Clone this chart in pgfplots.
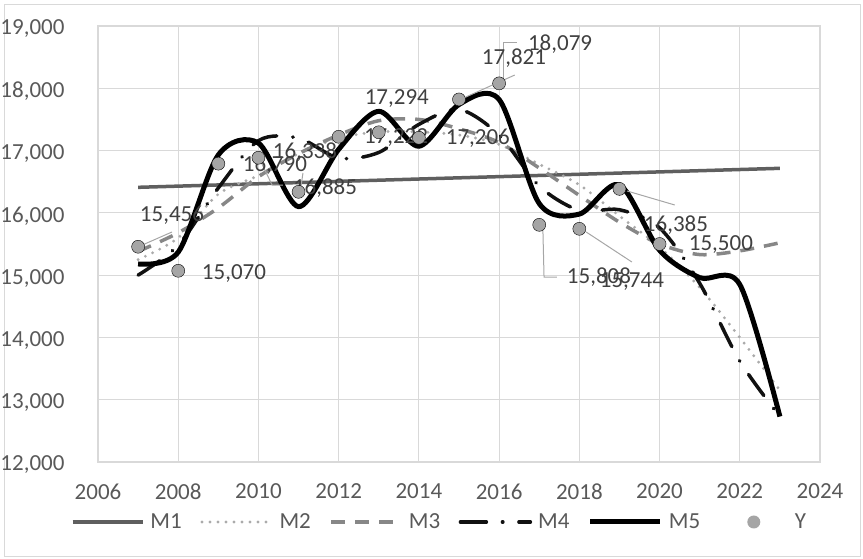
\documentclass[border=0pt]{standalone}
\usepackage{fontspec}
\setmainfont{Carlito}
\usepackage{pgfplots}
\pgfplotsset{compat=1.18}
\definecolor{gridc}{HTML}{D9D9D9}
\definecolor{mone}{HTML}{5F5F5F}
\definecolor{mtwo}{HTML}{ABABAB}
\definecolor{mthree}{HTML}{878787}
\definecolor{mfour}{HTML}{111111}
\definecolor{yc}{HTML}{A5A5A5}
\definecolor{lab}{HTML}{404040}
\definecolor{tickc}{HTML}{595959}
\definecolor{lead}{HTML}{A6A6A6}
\tikzset{lbl/.style={font=\fontsize{23}{27}\selectfont, text=lab, inner sep=0pt, anchor=center}}
\begin{document}
\begin{tikzpicture}
\useasboundingbox (-98pt,-96pt) rectangle (765pt,462pt);
\draw[gridc, line width=1pt] (-93pt,-94pt) rectangle (762pt,457pt);
\begin{axis}[
  at={(0pt,0pt)}, anchor=south west,
  scale only axis, width=722pt, height=436pt,
  xmin=2006, xmax=2024, ymin=12000, ymax=19000,
  xtick={2006,2008,...,2024}, ytick={12000,13000,...,19000},
  scaled ticks=false,
  grid=major, major grid style={gridc, line width=1.2pt},
  axis line style={gridc, line width=1.2pt},
  major tick length=0pt,
  /pgf/number format/assume math mode=true,
  ticklabel style={font=\fontsize{23}{27}\selectfont, text=tickc},
  yticklabel style={/pgf/number format/1000 sep={,}, xshift=-30pt, yshift=-3pt},
  xticklabel style={/pgf/number format/1000 sep={}, yshift=-18pt},
  legend columns=6,
  legend style={at={(axis description cs:-0.0374,-0.1376)}, anchor=west,
    draw=none, fill=none, inner sep=0pt, outer sep=0pt,
    font=\fontsize{23}{27}\selectfont, text=tickc,
    nodes={inner sep=0pt},
    /tikz/every odd column/.style={column sep=6pt},
    /tikz/every even column/.style={column sep=18.5pt}},
  legend image code/.code={\draw[#1] (0pt,0pt) -- (70pt,0pt);},
]
\addplot[mone, line width=3.5pt] coordinates {(2007,16410) (2023,16715)};
\addlegendentry{M1}
\addplot[mtwo, line width=3.2pt, line cap=round, dash pattern=on 0pt off 8pt, smooth] coordinates {
(2007,15250) (2008,15600) (2009,16300) (2010,16600) (2011,16950) (2012,17200) (2013,17300) (2014,17300) (2015,17250) (2016,17100) (2017,16780) (2018,16450) (2019,15950) (2020,15450) (2021,14800) (2022,14000) (2023,13150)};
\addlegendentry{M2}
\addplot[mthree, line width=3.5pt, dash pattern=on 14pt off 10pt, smooth] coordinates {
(2007,15380) (2008,15680) (2009,16080) (2010,16580) (2011,16950) (2012,17250) (2013,17480) (2014,17500) (2015,17350) (2016,17130) (2017,16720) (2018,16280) (2019,15850) (2020,15500) (2021,15330) (2022,15390) (2023,15520)};
\addlegendentry{M3}
\addplot[mfour, line width=3.5pt, line cap=round, dash pattern=on 26pt off 16pt on 0.5pt off 16pt, smooth] coordinates {
(2007,15000) (2008,15480) (2009,16400) (2010,17160) (2011,17200) (2012,16880) (2013,16970) (2014,17420) (2015,17660) (2016,17250) (2017,16430) (2018,16040) (2019,16050) (2020,15760) (2021,14870) (2022,13620) (2023,12730)};
\addlegendentry{M4}
\addplot[black, line width=5pt, smooth] coordinates {
(2007,15180) (2008,15370) (2009,16930) (2010,17120) (2011,16100) (2012,17020) (2013,17630) (2014,17070) (2015,17740) (2016,17820) (2017,16150) (2018,15980) (2019,16450) (2020,15400) (2021,14960) (2022,14850) (2023,12730)};
\addlegendentry{M5}
\addplot[only marks, mark=*, mark size=6.5pt, mark options={draw=none, fill=yc}, forget plot] coordinates {
(2007,15456) (2008,15070) (2009,16790) (2010,16885) (2011,16338) (2012,17222) (2013,17294) (2014,17206) (2015,17821) (2016,18079) (2017,15808) (2018,15744) (2019,16385) (2020,15500)};
\addlegendimage{legend image code/.code={\path[draw=none,fill=none] (0pt,0pt) -- (70pt,0pt); \fill[yc, draw=none] (35pt,0pt) circle (6.5pt);}}
\addlegendentry{Y}
% leader lines
\draw[lead, line width=1pt] (axis cs:2007.05,15468) -- (axis cs:2007.845,15693);
\draw[lead, line width=1pt] (axis cs:2010.04,16849) -- (axis cs:2010.34,16447) -- (axis cs:2010.61,16447);
\draw[lead, line width=1pt] (axis cs:2011.04,16335) -- (axis cs:2011.11,16640);
\draw[lead, line width=1pt] (axis cs:2016.10,18133) -- (axis cs:2016.10,18743) -- (axis cs:2016.45,18743);
\draw[lead, line width=1pt] (axis cs:2015.17,17860) -- (axis cs:2016.39,18213);
\draw[lead, line width=1pt] (axis cs:2017.09,15773) -- (axis cs:2017.12,14970) -- (axis cs:2017.44,14970);
\draw[lead, line width=1pt] (axis cs:2018.17,15693) -- (axis cs:2019.31,15211);
\draw[lead, line width=1pt] (axis cs:2019.19,16351) -- (axis cs:2020.38,16126);
% data labels
\node[lbl] at (axis cs:2007.845,15966) {15,456};
\node[lbl] at (axis cs:2009.39,15034) {15,070};
\node[lbl] at (axis cs:2010.41,16768) {16,790};
\node[lbl] at (axis cs:2011.16,16977) {16,338};
\node[lbl] at (axis cs:2011.66,16399) {16,885};
\node[lbl] at (axis cs:2013.45,17828) {17,294};
\node[lbl] at (axis cs:2013.43,17202) {17,222};
\node[lbl] at (axis cs:2015.47,17202) {17,206};
\node[lbl] at (axis cs:2016.37,18486) {17,821};
\node[lbl] at (axis cs:2017.52,18711) {18,079};
\node[lbl] at (axis cs:2018.49,14970) {15,808};
\node[lbl] at (axis cs:2019.31,14890) {15,744};
\node[lbl] at (axis cs:2020.41,15805) {16,385};
\node[lbl] at (axis cs:2021.53,15484) {15,500};
\end{axis}
\end{tikzpicture}
\end{document}
